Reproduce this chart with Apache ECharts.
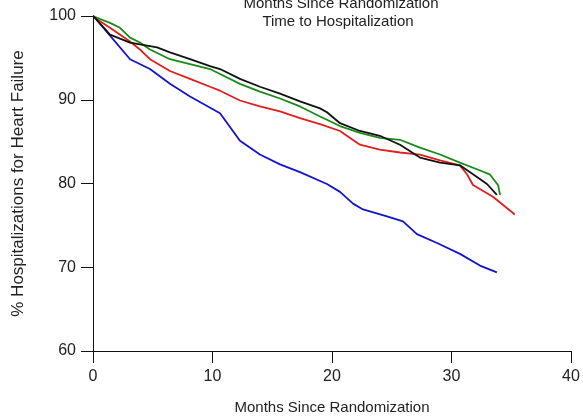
<!DOCTYPE html>
<html>
<head>
<meta charset="utf-8">
<script src="https://cdn.jsdelivr.net/npm/echarts@6/dist/echarts.min.js"></script>
<style>html,body{margin:0;padding:0;background:#fff}#c{width:583px;height:420px}</style>
</head>
<body>
<div id="c"></div>
<script>
var blueData = [[0,100],[0.17,99.77],[3.1,94.84],[4.77,93.67],[6.44,91.9],[8.12,90.38],[10.63,88.39],[12.3,85.1],[13.97,83.46],[15.65,82.29],[17.32,81.35],[19.58,79.94],[20.67,79.0],[21.76,77.6],[22.6,76.9],[24.6,76.07],[25.94,75.48],[27.11,73.96],[28.79,72.9],[30.71,71.6],[32.38,70.2],[33.8,69.38]];
var blackData = [[0,100],[0.17,99.77],[1.42,97.77],[3.1,96.83],[3.93,96.6],[5.36,96.25],[6.44,95.66],[8.12,94.84],[9.79,94.02],[10.63,93.67],[12.3,92.49],[13.97,91.55],[15.65,90.73],[17.32,89.8],[19.0,88.97],[19.58,88.5],[20.67,87.2],[22.34,86.27],[24.0,85.7],[25.69,84.63],[27.36,83.1],[29.04,82.5],[30.7,82.17],[31.8,81.1],[32.97,79.94],[33.8,78.65]];
var greenData = [[0,100],[0.17,99.88],[1.42,99.18],[2.26,98.59],[3.1,97.42],[3.93,96.83],[4.77,96.0],[6.44,94.84],[8.12,94.25],[9.79,93.67],[10.63,93.08],[12.3,91.9],[13.97,90.97],[15.65,90.15],[17.32,89.2],[19.0,88.0],[20.67,86.86],[22.34,86.04],[24.0,85.45],[25.69,85.22],[27.36,84.28],[29.04,83.46],[30.7,82.5],[32.13,81.7],[33.2,81.1],[33.9,79.8],[34.06,78.65]];
var redData = [[0,100],[0.17,99.77],[1.42,98.59],[3.1,96.95],[3.93,96.0],[4.77,94.84],[6.44,93.43],[8.12,92.49],[9.79,91.55],[10.63,91.08],[12.3,89.91],[13.97,89.2],[15.65,88.62],[17.32,87.8],[19.0,87.1],[20.67,86.27],[22.34,84.63],[24.0,84.05],[25.69,83.7],[27.36,83.46],[29.04,82.76],[30.7,82.17],[31.3,81.1],[31.8,79.82],[33.47,78.42],[35.3,76.3]];
var xTicks = [0,10,20,30,40];
var yTicks = [60,70,80,90,100];

var font = 'Liberation Sans, Arial, sans-serif';
var chart = echarts.init(document.getElementById('c'), null, {renderer:'canvas'});
function line(name, data, color){
  return {name:name, type:'line', data:data, showSymbol:false, symbol:'none', smooth:false,
    lineStyle:{color:color, width:1.8}, itemStyle:{color:color}, animation:false, z:2};
}
chart.setOption({
  animation:false,
  backgroundColor:'#fff',
  title:[
    {text:'Months Since Randomization', left:336, top:-9, textAlign:'center',
     textStyle:{fontFamily:font, fontSize:15, fontWeight:'normal', color:'#222'}},
    {text:'Time to Hospitalization', left:333, top:9, textAlign:'center',
     textStyle:{fontFamily:font, fontSize:15, fontWeight:'normal', color:'#222'}}
  ],
  grid:{left:93, right:12, top:16, bottom:63, containLabel:false},
  xAxis:{type:'value', min:xTicks[0], max:xTicks[xTicks.length-1], interval:10,
    name:'Months Since Randomization', nameLocation:'middle', nameGap:49,
    nameTextStyle:{fontFamily:font, fontSize:15, color:'#222'},
    axisLine:{show:true, onZero:false, lineStyle:{color:'#111', width:1}},
    axisTick:{show:true, length:12, lineStyle:{color:'#111'}},
    axisLabel:{fontFamily:font, fontSize:16, color:'#222', margin:18},
    splitLine:{show:false}},
  yAxis:{type:'value', min:yTicks[0], max:yTicks[yTicks.length-1], interval:10,
    name:'% Hospitalizations for Heart Failure', nameLocation:'middle', nameGap:66, nameRotate:90,
    nameTextStyle:{fontFamily:font, fontSize:17, color:'#222'},
    axisLine:{show:true, onZero:false, lineStyle:{color:'#111', width:1}},
    axisTick:{show:true, length:12, lineStyle:{color:'#111'}},
    axisLabel:{fontFamily:font, fontSize:16, color:'#222', margin:17},
    splitLine:{show:false}},
  series:[
    line('Blue', blueData, '#1414c8'),
    line('Red', redData, '#e01e1e'),
    line('Green', greenData, '#178a17'),
    line('Black', blackData, '#111111')
  ]
});
</script>
</body>
</html>
